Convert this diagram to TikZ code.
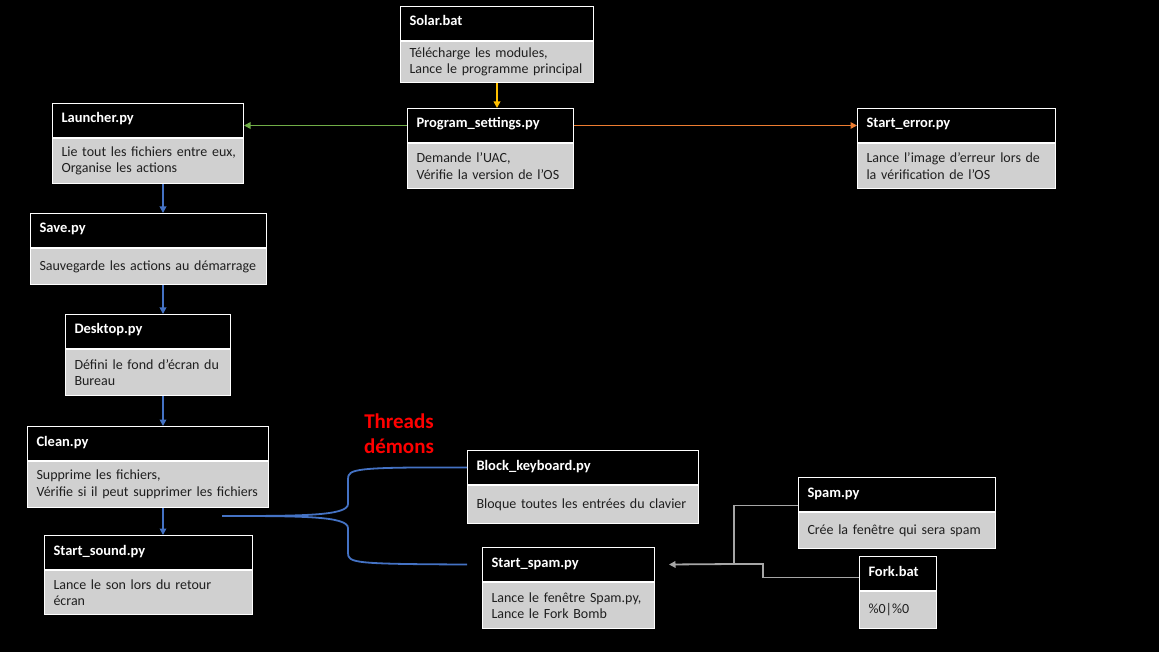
\documentclass[tikz,border=0pt]{standalone}
\usepackage{fontspec}
\setmainfont{Carlito}
\usetikzlibrary{arrows.meta, positioning, calc}
\definecolor{BodyGray}{HTML}{D0D0D0}
\definecolor{LinkGreen}{HTML}{70AD47}
\definecolor{LinkOrange}{HTML}{ED7D31}
\definecolor{LinkGold}{HTML}{FFC000}
\definecolor{LinkBlue}{HTML}{4472C4}
\definecolor{LinkGray}{HTML}{A6A6A6}
\definecolor{TitleRed}{HTML}{FF0000}
\tikzset{
  head/.style={rectangle, draw=white, fill=black, text=white, line width=1pt,
    font=\fontsize{14.5}{17}\selectfont\bfseries, text width=#1, align=left,
    inner xsep=9pt, inner ysep=0pt, minimum height=34pt, anchor=north west,
    text height=10pt, text depth=5pt},
  body/.style={rectangle, draw=white, fill=BodyGray, text=black!88, line width=1pt,
    font=\fontsize{14}{16.5}\selectfont, text width=#1, align=left,
    inner xsep=9pt, inner ysep=0pt},
  arrow/.style={-{Triangle[length=6.5pt,width=6.5pt]}, line width=1.8pt},
  thread/.style={line width=1.8pt, color=LinkBlue},
  link/.style={line width=1.6pt, color=LinkGray},
}
\begin{document}
\begin{tikzpicture}[x=1pt, y=-1pt]
  \fill[black] (0,0) rectangle (1159,652);
  \useasboundingbox (0,0) rectangle (1159,652);

  % Solar.bat
  \node[head=175pt] (solar) at (400,6) {Solar.bat};
  \node[body=175pt, minimum height=41pt, below=0pt of solar]
    (solarb) {Télécharge les modules,\\Lance le programme principal};

  % Program_settings.py
  \node[head=148pt] (prog) at (407,108) {Program\_settings.py};
  \node[body=148pt, minimum height=45pt, below=0pt of prog]
    (progb) {Demande l’UAC,\\Vérifie la version de l’OS};

  % Launcher.py
  \node[head=173pt] (launch) at (52,103) {Launcher.py};
  \node[body=179pt, inner xsep=6pt, minimum height=45pt, below=0pt of launch]
    (launchb) {\hspace*{3pt}Lie tout les fichiers entre eux,\\\hspace*{3pt}Organise les actions};

  % Start_error.py
  \node[head=180pt] (err) at (857,108) {Start\_error.py};
  \node[body=180pt, minimum height=45pt, below=0pt of err]
    (errb) {Lance l’image d’erreur lors de\\la vérification de l’OS};

  % Save.py
  \node[head=218pt] (save) at (30,213) {Save.py};
  \node[body=218pt, minimum height=36pt, below=0pt of save]
    (saveb) {Sauvegarde les actions au démarrage};

  % Desktop.py
  \node[head=147pt] (desk) at (65,314) {Desktop.py};
  \node[body=147pt, minimum height=46pt, below=0pt of desk]
    (deskb) {Défini le fond d’écran du\\Bureau};

  % Clean.py
  \node[head=223pt] (clean) at (27,426) {Clean.py};
  \node[body=223pt, minimum height=46pt, below=0pt of clean]
    (cleanb) {Supprime les fichiers,\\Vérifie si il peut supprimer les fichiers};

  % Start_sound.py
  \node[head=190pt] (sound) at (44,535) {Start\_sound.py};
  \node[body=190pt, minimum height=44pt, below=0pt of sound]
    (soundb) {Lance le son lors du retour\\écran};

  % Block_keyboard.py
  \node[head=213pt] (block) at (467,450) {Block\_keyboard.py};
  \node[body=213pt, minimum height=38pt, below=0pt of block]
    (blockb) {Bloque toutes les entrées du clavier};

  % Start_spam.py
  \node[head=154pt] (sspam) at (482,547) {Start\_spam.py};
  \node[body=154pt, minimum height=46pt, below=0pt of sspam]
    (sspamb) {Lance le fenêtre Spam.py,\\Lance le Fork Bomb};

  % Spam.py
  \node[head=179pt] (spam) at (798,477) {Spam.py};
  \node[body=179pt, minimum height=36pt, below=0pt of spam]
    (spamb) {Crée la fenêtre qui sera spam};

  % Fork.bat
  \node[head=59pt] (fork) at (859,556) {Fork.bat};
  \node[body=59pt, minimum height=37pt, below=0pt of fork]
    (forkb) {\%0|\%0};

  % Threads label
  \node[font=\fontsize{21}{25}\selectfont\bfseries, text=TitleRed, align=center]
    (threads) at (399,434) {Threads\\démons};

  % Top arrows
  \draw[arrow, LinkGold] (solarb.south) -- (solarb.south |- prog.north);
  \draw[arrow, LinkGreen] (prog.west) -- (prog.west -| launch.east);
  \draw[arrow, LinkOrange] (prog.east) -- (prog.east -| err.west);

  % Left column
  \coordinate (spine) at (163,0);
  \draw[arrow, LinkBlue] (launchb.south -| spine) -- (save.north -| spine);
  \draw[arrow, LinkBlue] (saveb.south -| spine) -- (desk.north -| spine);
  \draw[arrow, LinkBlue] (deskb.south -| spine) -- (clean.north -| spine);
  \draw[arrow, LinkBlue] (cleanb.south -| spine) -- (sound.north -| spine);

  % Daemon threads
  \coordinate (split) at (222,516);
  \draw[thread] (split) .. controls (300,516) and (348,516) .. (348,504)
    -- (348,479) .. controls (348,469) and (354,467) .. (block.west);
  \draw[thread] (split) .. controls (300,516) and (348,516) .. (348,528)
    -- (348,553) .. controls (348,563) and (354,564) .. ([xshift=-15pt]sspam.west);

  % Spam and fork
  \coordinate (junc) at (734,564);
  \draw[link] ([yshift=-11pt]spam.west) -| (junc);
  \draw[link] ([yshift=-4pt]fork.west) -| ($(junc)+(29,0)$) -- (junc);
  \draw[arrow, LinkGray] (junc) -- ([xshift=14pt]sspam.east);

\end{tikzpicture}
\end{document}
